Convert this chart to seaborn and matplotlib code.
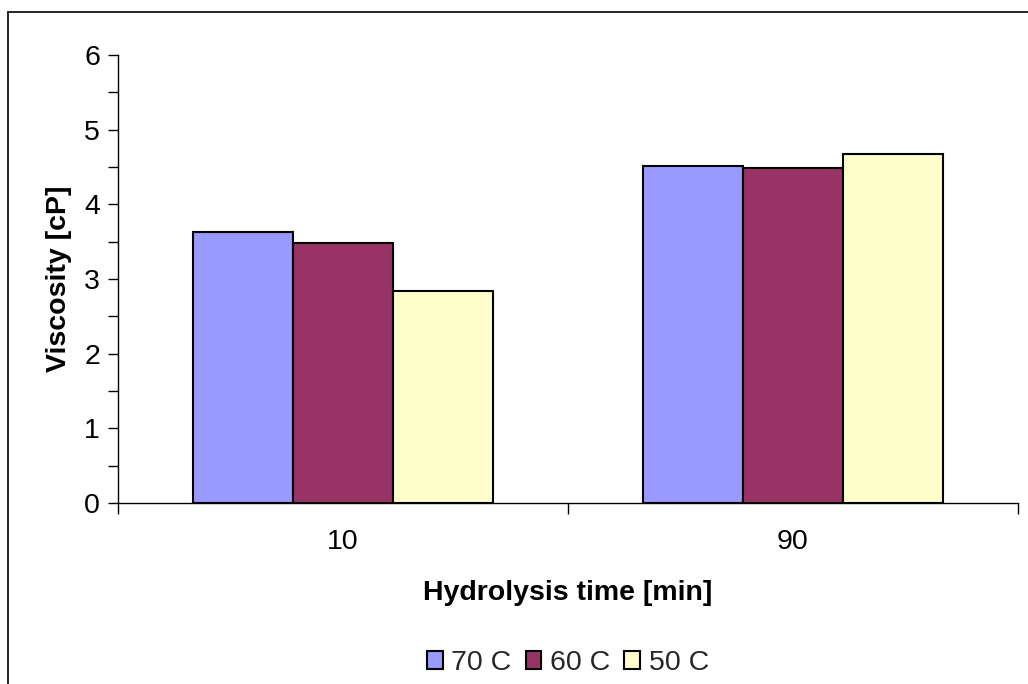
import matplotlib
matplotlib.use("Agg")
import matplotlib.pyplot as plt
import seaborn as sns
import pandas as pd
from matplotlib.lines import Line2D
from matplotlib.ticker import MultipleLocator, FixedLocator

times = ["10", "90"]
series = ["70 C", "60 C", "50 C"]
v70 = [3.63, 4.52]
v60 = [3.48, 4.49]
v50 = [2.84, 4.68]
colors = ["#9999FF", "#993366", "#FFFFCC"]

rows = []
for s, vals in zip(series, [v70, v60, v50]):
    for t, v in zip(times, vals):
        rows.append({"time": t, "temp": s, "visc": v})
df = pd.DataFrame(rows)

sns.set_theme(style="white")
plt.rcParams["font.family"] = ["Liberation Sans", "DejaVu Sans"]

FS = 20.5
fig = plt.figure(figsize=(10.28, 6.84), dpi=100)
ax = fig.add_axes([118/1028, (684-503)/684, 900/1028, 448/684])

sns.barplot(data=df, x="time", y="visc", hue="temp", order=times, hue_order=series,
            palette=colors, width=2/3, gap=0, edgecolor="black", linewidth=1.5,
            saturation=1, ax=ax, errorbar=None)

ax.set_xlim(-0.5, 1.5)
ax.set_ylim(0, 6)
ax.yaxis.set_major_locator(MultipleLocator(1))
ax.yaxis.set_minor_locator(MultipleLocator(0.5))
ax.xaxis.set_minor_locator(FixedLocator([-0.5, 0.5, 1.5]))

for sp in ["top", "right"]:
    ax.spines[sp].set_visible(False)
for sp in ["left", "bottom"]:
    ax.spines[sp].set_color("black")
    ax.spines[sp].set_linewidth(1.0)

ax.tick_params(axis="y", which="both", direction="out", length=7, width=1, color="black",
               left=True, labelsize=FS, labelcolor="black", pad=6)
ax.tick_params(axis="x", which="major", length=0, labelsize=FS, labelcolor="black", pad=19)
ax.tick_params(axis="x", which="minor", direction="out", length=8, width=1, color="black", bottom=True)

ax.set_xlabel("Hydrolysis time [min]", fontsize=FS, fontweight="bold", labelpad=18, color="black")
ax.set_ylabel("Viscosity [cP]", fontsize=FS, fontweight="bold", labelpad=9, color="black")

handles, labels = ax.get_legend_handles_labels()
if ax.legend_:
    ax.legend_.remove()
fig.legend(handles, labels, loc="center", bbox_to_anchor=(568/1028, 1 - 663/684), ncol=3,
           frameon=False, fontsize=FS, handlelength=0.55, handleheight=0.55,
           handletextpad=0.3, columnspacing=0.5, borderpad=0)

# figure border (top and left visible)
fig.add_artist(Line2D([8/1028, 1.0], [1 - 12/684, 1 - 12/684], transform=fig.transFigure,
                      color="black", linewidth=1.2))
fig.add_artist(Line2D([8/1028, 8/1028], [0.0, 1 - 12/684], transform=fig.transFigure,
                      color="black", linewidth=1.2))

fig.savefig("out.png", dpi=100)
